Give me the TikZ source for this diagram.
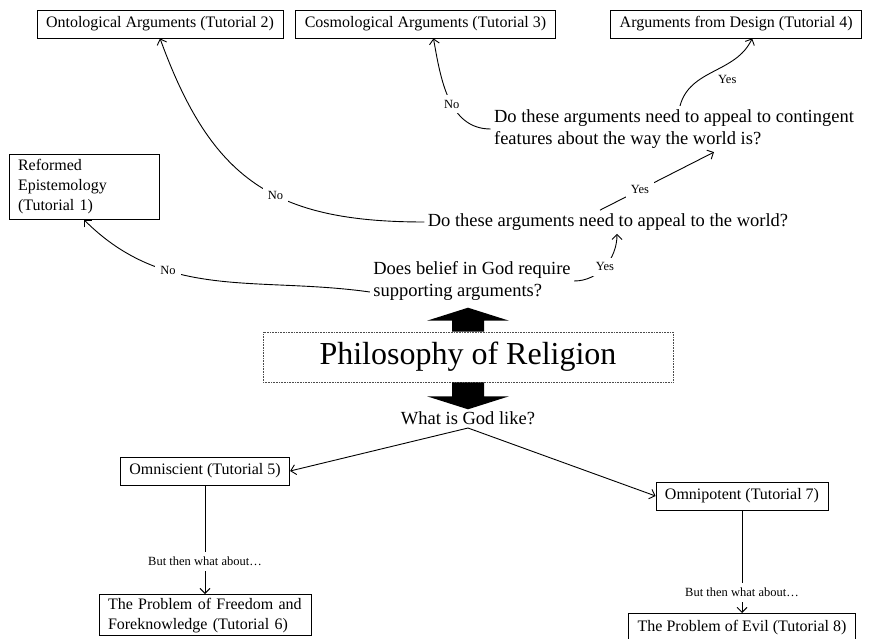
\documentclass[tikz,border=0pt]{standalone}
\usepackage{fontspec}
\setmainfont{Liberation Serif}
\usepackage{tikz}
\usetikzlibrary{arrows.meta,positioning}

\begin{document}
\begin{tikzpicture}[x=1pt,y=1pt,>={Straight Barb[length=5pt,width=10pt]},line width=0.9pt,
  box/.style={draw,line width=0.8pt,inner xsep=9pt,minimum height=28pt,font=\fontsize{16}{20}\selectfont},
  quest/.style={align=left,inner sep=3pt,font=\fontsize{18.5}{22.5}\selectfont},
  lbl/.style={font=\fontsize{12.5}{15}\selectfont},
  cut/.style={lbl,fill=white,inner sep=5pt}]
  \useasboundingbox (0,0) rectangle (872,638);
  % top row
  \node[box] (ont) at (160,614) {Ontological Arguments (Tutorial 2)};
  \node[box,right=12pt of ont] (cosmo) {Cosmological Arguments (Tutorial 3)};
  \node[box,anchor=east] (design) at (862,614) {Arguments from Design (Tutorial 4)};
  \node[box,text width=132pt,align=left,inner ysep=5pt] (reformed) at (84,451)
    {Reformed\\Epistemology\\(Tutorial 1)};
  % questions
  \node[quest] (q3) at (674,509) {Do these arguments need to appeal to contingent\\features about the way the world is?};
  \node[quest] (q2) at (608,416) {Do these arguments need to appeal to the world?};
  \node[quest] (q1) at (472,357) {Does belief in God require\\supporting arguments?};
  \node[draw=black!70,densely dotted,line width=0.6pt,minimum width=410pt,minimum height=50pt,
    font=\fontsize{32}{38}\selectfont] (phil) at (468,281) {Philosophy of Religion};
  \fill ([xshift=-16pt]phil.north) -- ++(0,11) -- ++(-25,0) -- ++(41,13) -- ++(41,-13)
    -- ++(-25,0) -- ++(0,-11) -- cycle;
  \fill ([xshift=-16pt]phil.south) -- ++(0,-14) -- ++(-25,0) -- ++(41,-13) -- ++(41,13)
    -- ++(-25,0) -- ++(0,14) -- cycle;
  \node[quest] (god) at (468,220) {What is God like?};
  % attributes
  \node[box] (omnisci) at (205,167) {Omniscient (Tutorial 5)};
  \node[box] (omnipot) at (742,142) {Omnipotent (Tutorial 7)};
  \node[box,anchor=north,text width=194pt,align=left] (freedom) at (205,44)
    {The Problem of Freedom and\\Foreknowledge (Tutorial 6)};
  \node[box,anchor=north] (evil) at (742,25) {The Problem of Evil (Tutorial 8)};

  \draw[->] ([yshift=-11pt]q1.west) to[out=172,in=-45] node[cut,pos=0.67] {No} (reformed.south);
  \draw[->] (q1.east) to[out=0,in=-90] node[cut] {Yes} ([xshift=9pt]q2.south);
  \draw[->] (q2.west) to[out=180,in=-70,looseness=1.2] node[cut,pos=0.42] {No} (ont.south);
  \draw[->] ([xshift=-8pt]q2.north) -- node[cut,pos=0.35] {Yes} ([xshift=40pt]q3.south);
  \draw[->] (q3.west) to[out=180,in=-80] node[cut,pos=0.45] {No} ([xshift=8pt]cosmo.south);
  \draw[->] ([xshift=6pt]q3.north) to[out=75,in=-115] node[lbl,pos=0.5,below right=1pt] {Yes} ([xshift=16pt]design.south);
  \draw[->] (god.south) -- (omnisci.east);
  \draw[->] (god.south) -- (omnipot.west);
  \draw[->] (omnisci) -- node[cut,pos=0.7] {But then what about…} (freedom);
  \draw[->] (omnipot) -- node[cut,pos=0.8] {But then what about…} (evil);
\end{tikzpicture}
\end{document}
